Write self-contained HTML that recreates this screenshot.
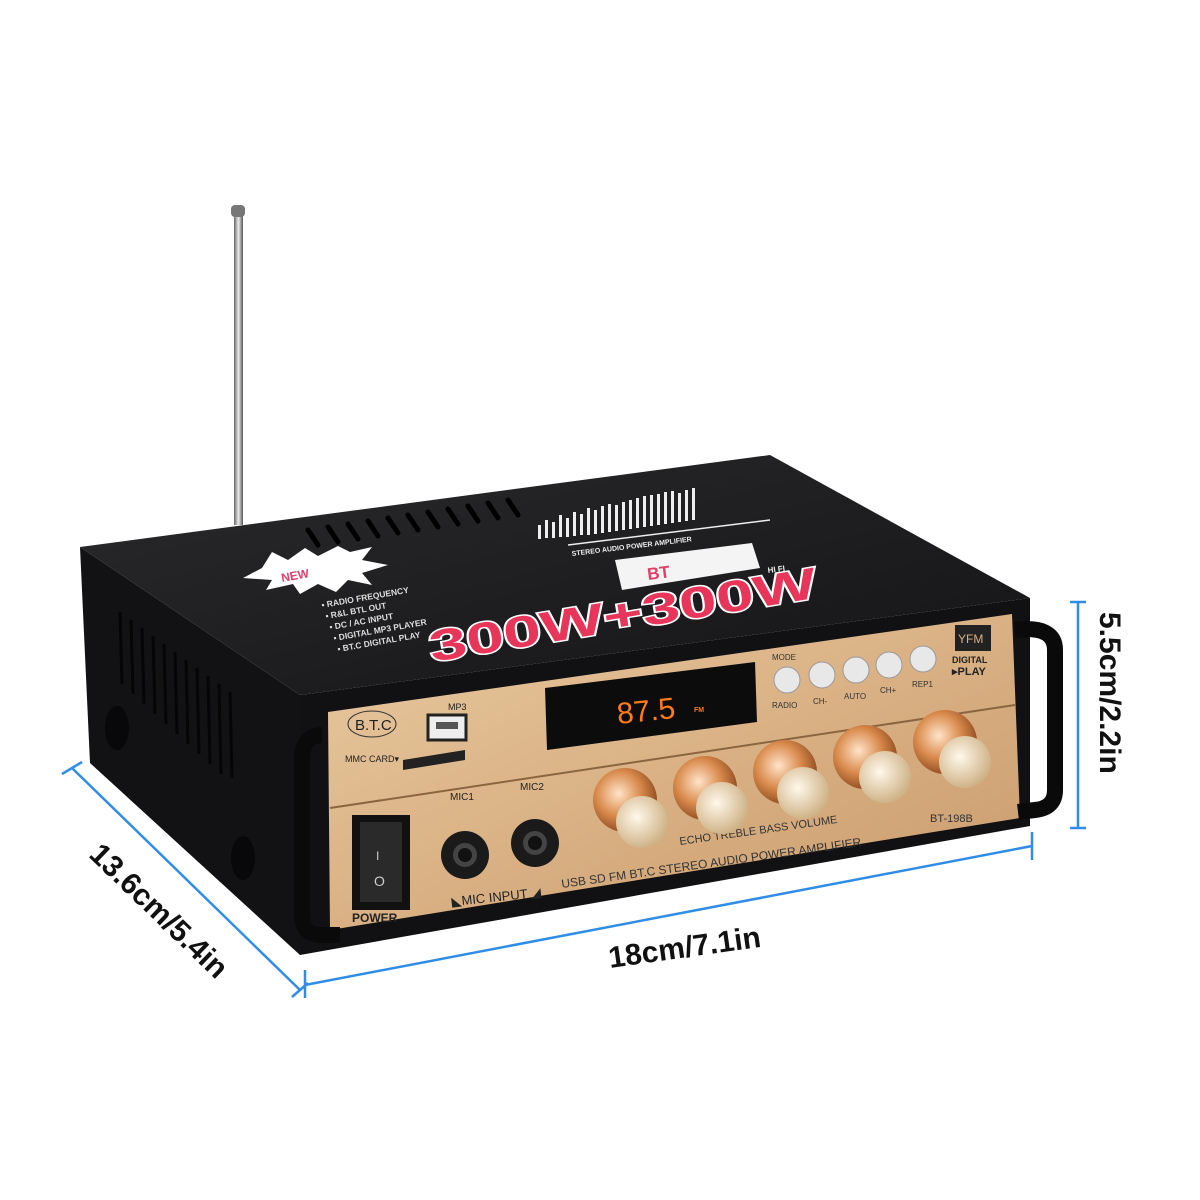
<!DOCTYPE html>
<html><head><meta charset="utf-8"><style>
html,body{margin:0;padding:0;background:#fff;width:1200px;height:1200px;overflow:hidden}
svg{display:block}
text{font-family:"Liberation Sans",sans-serif}
</style></head><body>
<svg width="1200" height="1200" viewBox="0 0 1200 1200" xmlns="http://www.w3.org/2000/svg">
<defs>
<linearGradient id="top" x1="0" y1="0" x2="1" y2="1"><stop offset="0" stop-color="#2a2a2c"/><stop offset="1" stop-color="#141416"/></linearGradient>
<linearGradient id="gold" x1="0" y1="0" x2="1" y2="1"><stop offset="0" stop-color="#e9c9a0"/><stop offset="0.5" stop-color="#d9b184"/><stop offset="1" stop-color="#c99a6c"/></linearGradient>
<radialGradient id="knob" cx="0.4" cy="0.4" r="0.7"><stop offset="0" stop-color="#ffe4c8"/><stop offset="0.5" stop-color="#d98a4c"/><stop offset="1" stop-color="#7a3a14"/></radialGradient>
<radialGradient id="cap" cx="0.4" cy="0.4" r="0.7"><stop offset="0" stop-color="#fff8ea"/><stop offset="1" stop-color="#c8a878"/></radialGradient>
<linearGradient id="ant" x1="0" x2="1"><stop offset="0" stop-color="#666"/><stop offset="0.5" stop-color="#eee"/><stop offset="1" stop-color="#555"/></linearGradient>
</defs>
<rect x="234" y="215" width="9" height="310" fill="url(#ant)"/>
<rect x="231" y="205" width="14" height="12" rx="4" fill="#777"/>
<!-- left side face -->
<polygon points="80,547 300,695 300,955 90,763" fill="#121214"/>
<g stroke="#050505" stroke-width="3">
<line x1="120" y1="612" x2="122" y2="684"/><line x1="131" y1="620" x2="133" y2="694"/><line x1="142" y1="628" x2="144" y2="704"/><line x1="153" y1="636" x2="155" y2="714"/><line x1="164" y1="644" x2="166" y2="724"/><line x1="175" y1="652" x2="177" y2="734"/><line x1="186" y1="660" x2="188" y2="744"/><line x1="197" y1="668" x2="199" y2="754"/><line x1="208" y1="676" x2="210" y2="764"/><line x1="219" y1="684" x2="221" y2="774"/><line x1="230" y1="692" x2="232" y2="778"/>
</g>
<ellipse cx="117" cy="728" rx="12" ry="22" fill="#08080a"/>
<ellipse cx="243" cy="858" rx="12" ry="22" fill="#08080a"/>
<polygon points="80,547 770,455 1030,598 300,695" fill="url(#top)"/>
<g stroke="#000" stroke-width="5" stroke-linecap="round">
<line x1="308" y1="530" x2="318" y2="545"/><line x1="328" y1="527" x2="338" y2="542"/><line x1="348" y1="524" x2="358" y2="539"/><line x1="368" y1="521" x2="378" y2="536"/><line x1="388" y1="518" x2="398" y2="533"/><line x1="408" y1="515" x2="418" y2="530"/><line x1="428" y1="512" x2="438" y2="527"/><line x1="448" y1="509" x2="458" y2="524"/><line x1="468" y1="506" x2="478" y2="521"/><line x1="488" y1="503" x2="498" y2="518"/><line x1="508" y1="500" x2="518" y2="515"/>
</g>
<g fill="#eee">
<rect x="538" y="525" width="3" height="14"/><rect x="545" y="520" width="3" height="18"/><rect x="552" y="522" width="3" height="16"/><rect x="559" y="515" width="3" height="22"/><rect x="566" y="518" width="3" height="19"/><rect x="573" y="512" width="3" height="24"/><rect x="580" y="514" width="3" height="21"/><rect x="587" y="508" width="3" height="27"/><rect x="594" y="510" width="3" height="24"/><rect x="601" y="506" width="3" height="27"/><rect x="608" y="504" width="3" height="28"/><rect x="615" y="505" width="3" height="26"/><rect x="622" y="502" width="3" height="28"/><rect x="629" y="500" width="3" height="29"/><rect x="636" y="498" width="3" height="30"/><rect x="643" y="496" width="3" height="31"/><rect x="650" y="495" width="3" height="31"/><rect x="657" y="494" width="3" height="31"/><rect x="664" y="492" width="3" height="32"/><rect x="671" y="491" width="3" height="32"/><rect x="678" y="493" width="3" height="29"/><rect x="685" y="490" width="3" height="31"/><rect x="692" y="488" width="3" height="32"/>
</g>
<line x1="568" y1="545" x2="770" y2="520" stroke="#eee" stroke-width="1.5"/>
<text x="572" y="556" font-size="7" fill="#eee" font-weight="bold" transform="rotate(-7 572 556)">STEREO AUDIO POWER AMPLIFIER</text>
<polygon points="615,560 752,543 760,568 622,590" fill="#f4f4f4"/>
<text x="648" y="580" font-size="17" fill="#e0406a" font-weight="bold" transform="rotate(-7 648 580)">BT</text>
<text x="768" y="573" font-size="8" fill="#eee" font-weight="bold" transform="rotate(-7 768 573)">HI FI</text>
<polygon points="243,578 262,568 272,552 288,560 305,548 318,556 338,546 350,552 372,547 362,560 388,565 362,573 372,585 348,580 336,592 318,584 300,594 293,584 266,590 272,580" fill="#fff"/>
<text x="282" y="582" font-size="12" fill="#e0406a" font-weight="bold" transform="rotate(-10 282 582)">NEW</text>
<g font-size="8.5" fill="#ddd" font-weight="bold">
<text x="322" y="608" transform="rotate(-10 322 608)">▪ RADIO FREQUENCY</text>
<text x="326" y="619" transform="rotate(-10 326 619)">▪ R&amp;L BTL OUT</text>
<text x="330" y="630" transform="rotate(-10 330 630)">▪ DC / AC INPUT</text>
<text x="334" y="641" transform="rotate(-10 334 641)">▪ DIGITAL MP3 PLAYER</text>
<text x="338" y="652" transform="rotate(-10 338 652)">▪ BT.C DIGITAL PLAY</text>
</g>
<text x="432" y="662" font-size="44" textLength="392" lengthAdjust="spacingAndGlyphs" fill="#e8365a" stroke="#fff" stroke-width="3" font-family="Liberation Serif" font-weight="bold" transform="rotate(-9.5 432 662)" paint-order="stroke">300W+300W</text>
<!-- front face -->
<polygon points="300,695 1030,598 1030,826 300,955" fill="#111114"/>
<polygon points="328,712 1012,614 1020,818 330,930" fill="url(#gold)"/>
<line x1="330" y1="808" x2="1015" y2="705" stroke="#8a6640" stroke-width="2"/>
<polygon points="545,688 755,662 757,722 547,750" fill="#0c0c0c"/>
<text x="618" y="724" font-size="30" fill="#ff7a1a" font-family="Liberation Mono" transform="rotate(-6 618 724)">87.5</text>
<text x="694" y="712" font-size="7" fill="#ff7a1a" font-weight="bold">FM</text>
<g fill="#e8e8e8" stroke="#999">
<circle cx="787" cy="680" r="13"/><circle cx="822" cy="675" r="13"/><circle cx="856" cy="670" r="13"/><circle cx="889" cy="665" r="13"/><circle cx="923" cy="659" r="13"/>
</g>
<g font-size="8" fill="#333">
<text x="772" y="660">MODE</text><text x="772" y="708">RADIO</text><text x="813" y="704">CH-</text><text x="844" y="699">AUTO</text><text x="880" y="693">CH+</text><text x="912" y="687">REP1</text>
</g>
<rect x="955" y="625" width="36" height="26" fill="#222"/>
<text x="958" y="643" font-size="12" fill="#d9b184" font-family="Liberation Serif">YFM</text>
<text x="952" y="663" font-size="9" fill="#222" font-weight="bold">DIGITAL</text>
<text x="952" y="675" font-size="11" fill="#222" font-weight="bold">▸PLAY</text>
<ellipse cx="372" cy="724" rx="24" ry="13" fill="none" stroke="#333"/>
<text x="355" y="730" font-size="15" fill="#222">B.T.C</text>
<text x="345" y="762" font-size="9" fill="#222">MMC CARD▾</text>
<text x="448" y="710" font-size="9" fill="#222">MP3</text>
<rect x="428" y="715" width="38" height="25" fill="#eee" stroke="#222" stroke-width="3"/>
<rect x="436" y="722" width="22" height="7" fill="#555"/>
<polygon points="403,760 465,750 465,760 403,770" fill="#222"/>
<text x="450" y="800" font-size="10" fill="#222">MIC1</text><text x="520" y="790" font-size="10" fill="#222">MIC2</text>
<circle cx="465" cy="855" r="24" fill="#1a1a1a"/><circle cx="465" cy="855" r="12" fill="#444"/><circle cx="465" cy="855" r="7" fill="#111"/>
<circle cx="535" cy="843" r="24" fill="#1a1a1a"/><circle cx="535" cy="843" r="12" fill="#444"/><circle cx="535" cy="843" r="7" fill="#111"/>
<text x="452" y="906" font-size="13" fill="#222" transform="rotate(-6 452 906)">◣MIC INPUT ◢</text>
<text x="562" y="888" font-size="12" fill="#333" transform="rotate(-8 562 888)">USB SD FM BT.C STEREO AUDIO POWER AMPLIFIER</text>
<text x="680" y="845" font-size="11" fill="#333" transform="rotate(-8 680 845)">ECHO   TREBLE       BASS     VOLUME</text>
<text x="930" y="822" font-size="11" fill="#333">BT-198B</text>
<rect x="352" y="815" width="58" height="95" fill="#111"/>
<rect x="360" y="822" width="42" height="80" fill="#2a2a2a"/>
<text x="376" y="860" font-size="12" fill="#ccc">I</text><text x="374" y="886" font-size="14" fill="#ccc">O</text>
<text x="352" y="922" font-size="12" fill="#222" font-weight="bold">POWER</text>
<g>
<circle cx="625" cy="800" r="32" fill="url(#knob)"/><circle cx="642" cy="822" r="26" fill="url(#cap)"/>
<circle cx="705" cy="788" r="32" fill="url(#knob)"/><circle cx="722" cy="808" r="26" fill="url(#cap)"/>
<circle cx="785" cy="772" r="32" fill="url(#knob)"/><circle cx="803" cy="793" r="26" fill="url(#cap)"/>
<circle cx="865" cy="757" r="32" fill="url(#knob)"/><circle cx="885" cy="777" r="26" fill="url(#cap)"/>
<circle cx="945" cy="742" r="32" fill="url(#knob)"/><circle cx="965" cy="762" r="26" fill="url(#cap)"/>
</g>
<path d="M322,735 Q302,735 302,760 L302,915 Q302,935 322,935 L340,935" fill="none" stroke="#0a0a0a" stroke-width="16"/>
<path d="M1015,630 Q1055,625 1055,650 L1055,790 Q1055,808 1035,810 L1018,812" fill="none" stroke="#0a0a0a" stroke-width="16"/>
<g stroke="#2f8de8" stroke-width="2.5" fill="none">
<line x1="1078" y1="602" x2="1078" y2="828"/><line x1="1070" y1="602" x2="1086" y2="602"/><line x1="1070" y1="828" x2="1086" y2="828"/>
<line x1="72" y1="768" x2="300" y2="990"/><line x1="62" y1="774" x2="82" y2="762"/><line x1="292" y1="997" x2="308" y2="983"/>
<line x1="305" y1="985" x2="1032" y2="846"/><line x1="305" y1="970" x2="305" y2="998"/><line x1="1032" y1="832" x2="1032" y2="860"/>
</g>
<g font-size="30" font-weight="bold" fill="#111">
<text x="1100" y="612" transform="rotate(90 1100 612)">5.5cm/2.2in</text>
<text x="152" y="918" text-anchor="middle" transform="rotate(44 152 918)">13.6cm/5.4in</text>
<text x="610" y="968" transform="rotate(-8 610 968)">18cm/7.1in</text>
</g>
</svg>
</body></html>
